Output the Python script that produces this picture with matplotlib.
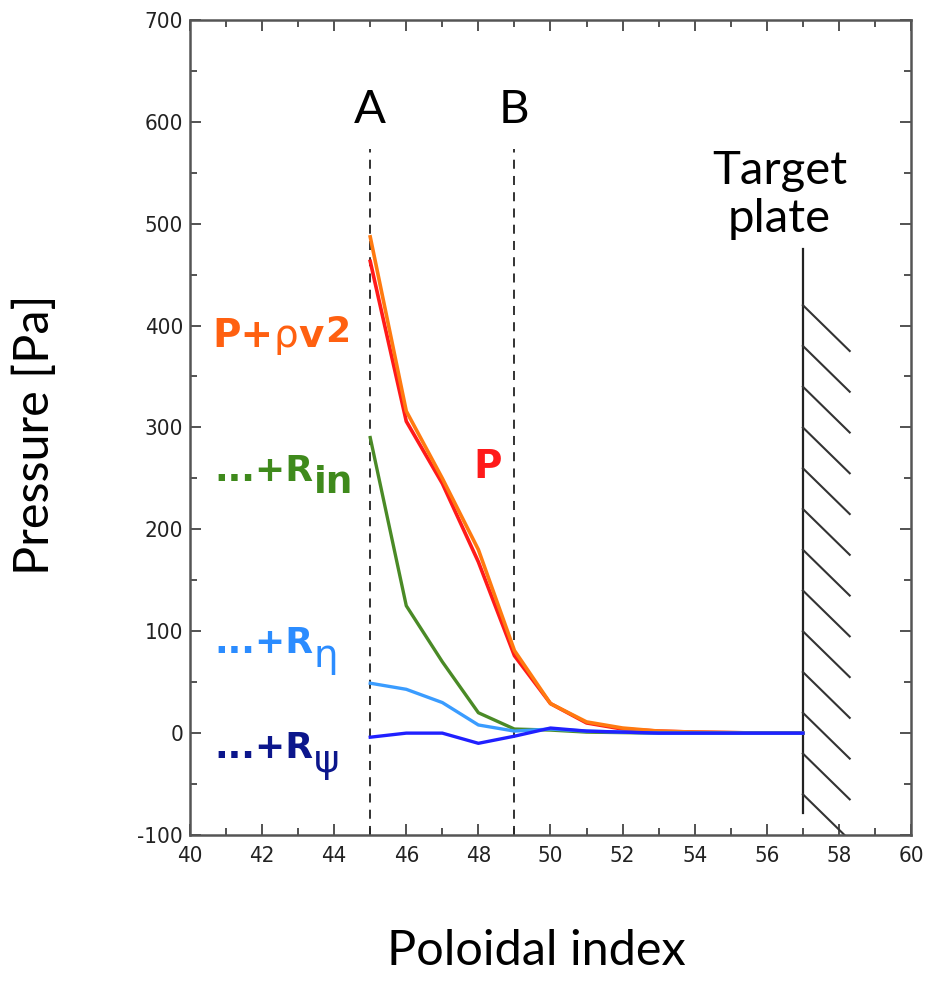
import numpy as np
import matplotlib
matplotlib.use("Agg")
import matplotlib.pyplot as plt
from matplotlib.ticker import MultipleLocator

plt.rcParams['axes.unicode_minus'] = False

# poloidal index along the leg
x = [45, 46, 47, 48, 49, 50, 51, 52, 53, 54, 55, 56, 57]
p_rhov2 = [487, 316, 250, 180, 81, 29, 11, 5, 2, 1, 0.5, 0, 0]
p_only = [463, 306, 245, 168, 76, 29, 10, 4, 2, 1, 0.5, 0, 0]
r_in = [290, 125, 70, 20, 4, 3, 1, 0.5, 0, 0, 0, 0, 0]
r_eta = [49, 43, 30, 8, 2, 4, 2, 1, 0, 0, 0, 0, 0]
r_psi = [-4, 0, 0, -10, -3, 5, 2, 1, 0, 0, 0, 0, 0]

marks_x = [45, 49]
marks_lbl = ['A', 'B']
plate_x = 57
plate_y = [-78, 475]
hatch_starts = np.arange(420, -70, -40)

labfont = ['Lato', 'DejaVu Sans']
boldfont = ['DejaVu Sans']

fig = plt.figure(figsize=(9.28, 9.81), dpi=100)
ax = fig.add_axes([0.2047, 0.1488, 0.777, 0.831])

ax.plot(x, p_only, color='#ff1a1a', lw=2.6, zorder=3)
ax.plot(x, p_rhov2, color='#ff7a10', lw=2.6, zorder=3)
ax.plot(x, r_in, color='#4a8a26', lw=2.4, zorder=4)
ax.plot(x, r_eta, color='#3a9cff', lw=2.4, zorder=5)
ax.plot(x, r_psi, color='#2020ff', lw=2.4, zorder=6)

for xm, lab in zip(marks_x, marks_lbl):
    ax.plot([xm, xm], [-100, 573], color='#222222', lw=1.3,
            ls=(0, (5, 4)), zorder=2)
    ax.text(xm, 591, lab, ha='center', va='bottom', fontsize=34,
            family=labfont)

# target plate with hatching
ax.plot([plate_x, plate_x], plate_y, color='#222222', lw=1.6, zorder=2)
for ys in hatch_starts:
    ax.plot([plate_x, plate_x + 1.3], [ys, ys - 45], color='#333333',
            lw=1.5, clip_on=True, zorder=2)
ax.text(plate_x - 0.65, 484, 'Target\nplate', ha='center', va='bottom',
        fontsize=34, family=labfont, linespacing=1.18)

# curve labels, built from pieces
orange = '#ff6010'
t = ax.text(40.62, 379, 'P+', color=orange, fontsize=28,
            fontweight='bold', family=boldfont, va='baseline')
t = ax.annotate('ρ', xy=(1, 0), xycoords=t, xytext=(0, 0),
                textcoords='offset points', color=orange, fontsize=28,
                family=boldfont, va='bottom')
t = ax.annotate('v', xy=(1, 0), xycoords=t, xytext=(0, 0),
                textcoords='offset points', color=orange, fontsize=28,
                fontweight='bold', family=boldfont, va='bottom')
ax.annotate('2', xy=(1, 0), xycoords=t, xytext=(1, 4),
            textcoords='offset points', color=orange, fontsize=26,
            fontweight='bold', family=boldfont, va='bottom')

def sublabel(y, main, sub, color, subsize, dy, bold):
    t = ax.text(40.68, y, main, color=color, fontsize=26,
                fontweight='bold', family=boldfont, va='baseline')
    ax.annotate(sub, xy=(1, 0), xycoords=t, xytext=(0, dy),
                textcoords='offset points', color=color,
                fontsize=subsize, fontweight='bold' if bold else 'normal',
                family=boldfont, va='bottom')

sublabel(247, '...+R', 'in', '#3f8a1c', 27, -9, True)
sublabel(79, '...+R', 'η', '#2b8cff', 28, -11, False)
sublabel(-24, '...+R', 'ψ', '#0c168c', 28, -11, False)

ax.text(47.85, 250, 'P', color='#ff1a1a', fontsize=28, fontweight='bold',
        family=boldfont, va='baseline')

ax.set_xlim(40, 60)
ax.set_ylim(-100, 700)
ax.xaxis.set_major_locator(MultipleLocator(2))
ax.xaxis.set_minor_locator(MultipleLocator(1))
ax.yaxis.set_major_locator(MultipleLocator(100))
ax.yaxis.set_minor_locator(MultipleLocator(50))
ax.tick_params(which='both', direction='in', top=True, right=True,
               color='#444444', width=1.3)
ax.tick_params(which='major', length=8, labelsize=16, pad=5,
               labelcolor='#222222')
ax.tick_params(axis='x', which='major', pad=8)
ax.tick_params(which='minor', length=5)
for lab in ax.get_xticklabels() + ax.get_yticklabels():
    lab.set_family('DejaVu Sans')
    lab.set_stretch('condensed')
for s in ax.spines.values():
    s.set_color('#555555')
    s.set_linewidth(1.8)

fig.text(0.037, 0.557, 'Pressure [Pa]', rotation=90, ha='center',
         va='center', fontsize=35, family=labfont)
fig.text(0.578, 0.031, 'Poloidal index', ha='center', va='center',
         fontsize=35, family=labfont)

fig.savefig('out.png', dpi=100)
